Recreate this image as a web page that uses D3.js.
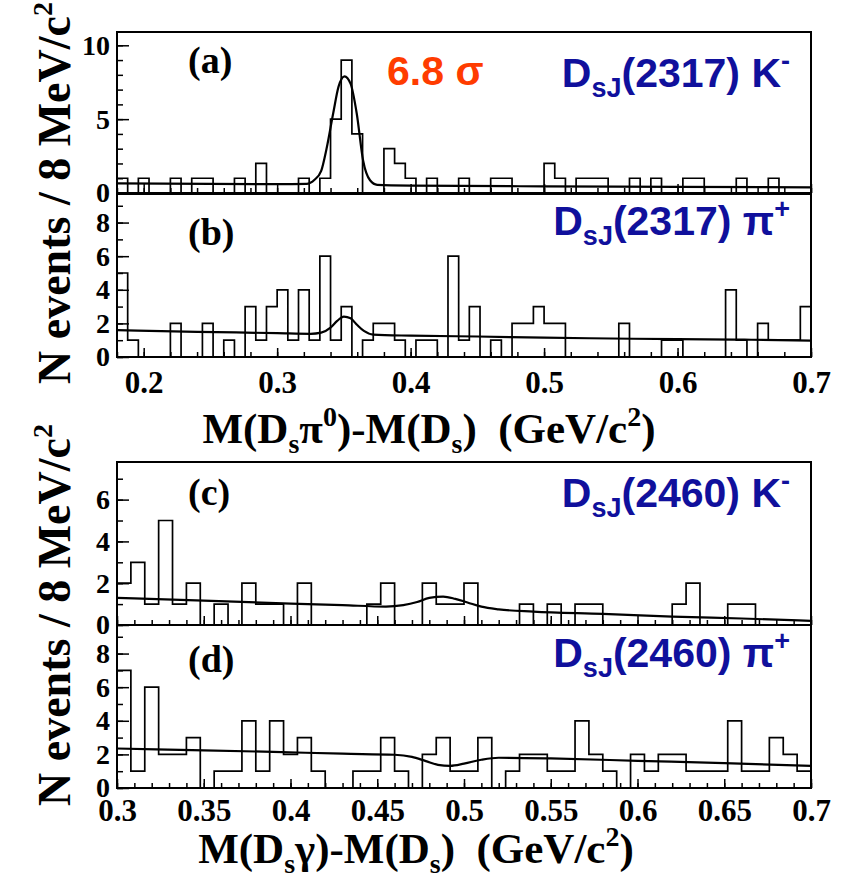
<!DOCTYPE html>
<html>
<head>
<meta charset="utf-8">
<title>DsJ K / pi mass difference spectra</title>
<script src="https://cdn.jsdelivr.net/npm/d3@7"></script>
<style>
  body { margin: 0; background: #fff; }
  text { white-space: pre; }
</style>
</head>
<body>
<svg id="chart" width="843" height="887"></svg>
<script>
  // bin contents, 8 MeV bins
  const binsA = [1,0,1,0,0,1,0,1,1,0, 0,1,0,2,0,0,0,1,0,1, 5,9,4,0,0,3,2,1,0,1, 0,0,1,0,0,1,1,0,0,0, 2,1,0,1,1,1,0,0,1,0, 1,0,0,1,1,0,0,0,1,0, 0,1,0,0,0]
  const binsB = [5,1,0,0,0,2,0,0,2,0, 1,0,3,1,3,4,1,4,1,6, 1,3,0,1,2,2,1,0,1,1, 0,6,1,3,0,1,0,2,2,3, 2,2,0,0,0,0,0,2,0,0, 0,1,1,0,0,0,0,4,1,0, 2,1,1,1,3]
  const binsC = [2,3,1,5,1,2,0,1,0,2, 1,1,0,2,0,0,0,0,1,2, 0,0,2,1,1,2,0,0,0,1, 0,1,0,1,1,0,0,0,0,0, 1,2,0,0,1,1,0,0,0,0]
  const binsD = [7,1,6,2,2,3,0,1,1,4, 1,4,2,3,1,0,0,1,1,3, 1,0,2,3,1,1,3,0,1,2, 2,1,1,4,2,1,0,2,1,2, 2,1,1,1,4,1,1,3,2,1]

  // fitted curves
  const fitA = [[0.18,0.65],[0.25,0.62],[0.30,0.6],[0.322,0.62],[0.328,0.9],[0.333,1.5],[0.337,3.0],[0.342,5.4],[0.346,7.2],[0.3505,7.9],[0.355,7.4],[0.3596,5.4],[0.3644,2.2],[0.3696,0.86],[0.375,0.55],[0.40,0.5],[0.50,0.45],[0.60,0.42],[0.70,0.38]]
  const fitB = [[0.18,1.6],[0.24,1.5],[0.30,1.42],[0.325,1.38],[0.333,1.45],[0.34,1.75],[0.345,2.15],[0.35,2.4],[0.355,2.3],[0.36,1.9],[0.365,1.55],[0.372,1.33],[0.40,1.27],[0.45,1.22],[0.50,1.15],[0.55,1.1],[0.60,1.06],[0.65,1.03],[0.70,0.98]]
  const fitC = [[0.30,1.3],[0.35,1.17],[0.40,1.02],[0.43,0.95],[0.455,0.88],[0.465,0.95],[0.473,1.1],[0.48,1.3],[0.488,1.36],[0.495,1.25],[0.502,1.08],[0.51,0.88],[0.52,0.75],[0.54,0.64],[0.58,0.53],[0.62,0.4],[0.66,0.31],[0.70,0.2]]
  const fitD = [[0.30,2.35],[0.35,2.24],[0.39,2.15],[0.43,2.04],[0.46,1.98],[0.47,1.85],[0.478,1.6],[0.485,1.38],[0.492,1.32],[0.50,1.45],[0.51,1.68],[0.52,1.8],[0.55,1.76],[0.60,1.62],[0.65,1.48],[0.70,1.32]]

  const xTicksTop = [0.2, 0.3, 0.4, 0.5, 0.6, 0.7]
  const xTicksBot = [0.3, 0.35, 0.4, 0.45, 0.5, 0.55, 0.6, 0.65, 0.7]
  const yTicksA = [0, 5, 10]
  const yTicksEven = [0, 2, 4, 6, 8]
  const yTicksC = [0, 2, 4, 6]

  const panelNames = ["(a)", "(b)", "(c)", "(d)"]
  const stateMass = ["2317", "2317", "2460", "2460"]
  const stateTrack = ["K", "π", "K", "π"]
  const stateCharge = ["-", "+", "-", "+"]

  const binW = 0.008
  const serif = "'Liberation Serif', 'Times New Roman', serif"
  const sans = "'Liberation Sans', Arial, sans-serif"
  const blue = "#10109c"

  const svg = d3.select("#chart")
  svg.append("rect").attr("width", 843).attr("height", 887).attr("fill", "#fff")

  const xTop = d3.scaleLinear().domain([0.18, 0.70]).range([117, 811])
  const xBot = d3.scaleLinear().domain([0.30, 0.70]).range([117, 811])

  const panels = [
    { bins: binsA, fit: fitA, x: xTop, y: d3.scaleLinear().domain([0, 10.9]).range([193, 32]),
      yMajor: yTicksA, yMinor: d3.range(0, 11), xMajor: xTicksTop, xMinor: d3.range(9, 36).map(i => i * 0.02), labels: false,
      tag: [188, 73], txt: 87 },
    { bins: binsB, fit: fitB, x: xTop, y: d3.scaleLinear().domain([0, 9.7]).range([357, 194]),
      yMajor: yTicksEven, yMinor: d3.range(0, 10), xMajor: xTicksTop, xMinor: d3.range(9, 36).map(i => i * 0.02), labels: true, pad: 14,
      tag: [188, 245], txt: 235 },
    { bins: binsC, fit: fitC, x: xBot, y: d3.scaleLinear().domain([0, 7.8]).range([625, 462]),
      yMajor: yTicksC, yMinor: d3.range(0, 8), xMajor: xTicksBot, xMinor: d3.range(30, 71).map(i => i / 100), labels: false,
      tag: [188, 505], txt: 507 },
    { bins: binsD, fit: fitD, x: xBot, y: d3.scaleLinear().domain([0, 9.7]).range([788, 625]),
      yMajor: yTicksEven, yMinor: d3.range(0, 10), xMajor: xTicksBot, xMinor: d3.range(30, 71).map(i => i / 100), labels: true, pad: 11,
      tag: [188, 672], txt: 667 }
  ]

  const fmtX = d => String(+d.toFixed(2))

  function styleAxis (g, size) {
    g.select(".domain").remove()
    g.selectAll("line").attr("stroke", "#000").attr("stroke-width", 1.5)
    g.attr("font-family", serif).attr("font-weight", "bold").attr("font-size", size)
    g.selectAll("text").attr("fill", "#000")
  }

  panels.forEach((p, idx) => {
    const g = svg.append("g")
    const x = p.x, y = p.y
    const lo = x.domain()[0]
    const y0 = y(0)

    // histogram outline
    const pts = [[lo, 0]]
    p.bins.forEach((v, i) => {
      pts.push([lo + i * binW, v])
      pts.push([lo + (i + 1) * binW, v])
    })
    pts.push([lo + p.bins.length * binW, 0])
    g.append("path")
      .attr("d", d3.line().x(d => x(d[0])).y(d => y(d[1]))(pts))
      .attr("fill", "none").attr("stroke", "#000").attr("stroke-width", 1.7)

    // fit
    g.append("path")
      .attr("d", d3.line().x(d => x(d[0])).y(d => y(d[1])).curve(d3.curveMonotoneX)(p.fit))
      .attr("fill", "none").attr("stroke", "#000").attr("stroke-width", 2.2)

    // axes, ticks pointing inwards
    g.append("g").attr("transform", `translate(0,${y0})`)
      .call(d3.axisBottom(x).tickValues(p.xMinor).tickSize(-5).tickSizeOuter(0).tickFormat(""))
      .call(a => styleAxis(a, 30))
    g.append("g").attr("transform", `translate(0,${y0})`)
      .call(d3.axisBottom(x).tickValues(p.xMajor).tickSize(-9).tickSizeOuter(0).tickPadding(p.pad || 10)
        .tickFormat(p.labels ? fmtX : ""))
      .call(a => styleAxis(a, 31))
    g.append("g").attr("transform", `translate(${x.range()[0]},0)`)
      .call(d3.axisLeft(y).tickValues(p.yMinor).tickSize(-6).tickSizeOuter(0).tickFormat(""))
      .call(a => styleAxis(a, 28))
    g.append("g").attr("transform", `translate(${x.range()[0]},0)`)
      .call(d3.axisLeft(y).tickValues(p.yMajor).tickSize(-12).tickSizeOuter(0).tickPadding(7).tickFormat(d3.format("d")))
      .call(a => styleAxis(a, 28))

    // frame
    g.append("rect")
      .attr("x", x.range()[0]).attr("y", y.range()[1])
      .attr("width", x.range()[1] - x.range()[0]).attr("height", y0 - y.range()[1])
      .attr("fill", "none").attr("stroke", "#000").attr("stroke-width", 2)

    // panel tag
    g.append("text").attr("x", p.tag[0]).attr("y", p.tag[1])
      .attr("font-family", serif).attr("font-weight", "bold").attr("font-size", 38)
      .text(panelNames[idx])

    // state label
    const t = g.append("text").attr("x", 790).attr("y", p.txt).attr("text-anchor", "end")
      .attr("font-family", sans).attr("font-weight", "bold").attr("font-size", 41).attr("fill", blue)
    t.append("tspan").text("D")
    t.append("tspan").attr("dy", 10).attr("font-size", 27).text("sJ")
    t.append("tspan").attr("dy", -10).text(`(${stateMass[idx]}) ${stateTrack[idx]}`)
    t.append("tspan").attr("dy", -17).attr("font-size", 27).text(stateCharge[idx])
  })

  svg.append("text").attr("x", 387).attr("y", 85)
    .attr("font-family", sans).attr("font-weight", "bold").attr("font-size", 41).attr("fill", "#ff3c00")
    .text("6.8 σ")

  // y titles
  ;[193, 615].forEach(cy => {
    const t = svg.append("text")
      .attr("transform", `translate(70,${cy}) rotate(-90)`)
      .attr("text-anchor", "middle")
      .attr("font-family", serif).attr("font-weight", "bold").attr("font-size", 46)
    t.append("tspan").text("N events / 8 MeV/c")
    t.append("tspan").attr("dy", -18).attr("font-size", 28).text("2")
  })

  // x titles
  function xTitle (cx, base, particle, sup) {
    const t = svg.append("text").attr("x", cx).attr("y", base).attr("text-anchor", "middle")
      .attr("font-family", serif).attr("font-weight", "bold").attr("font-size", 43)
    t.append("tspan").text("M(D")
    t.append("tspan").attr("dy", 10).attr("font-size", 28).text("s")
    t.append("tspan").attr("dy", -10).text(particle)
    let back = 0
    if (sup) {
      t.append("tspan").attr("dy", -17).attr("font-size", 28).text(sup)
      back = 17
    }
    t.append("tspan").attr("dy", back).text(")-M(D")
    t.append("tspan").attr("dy", 10).attr("font-size", 28).text("s")
    t.append("tspan").attr("dy", -10).text(")  (GeV/c")
    t.append("tspan").attr("dy", -17).attr("font-size", 28).text("2")
    t.append("tspan").attr("dy", 17).text(")")
  }
  xTitle(429, 443, "π", "0")
  xTitle(416, 863, "γ", null)
</script>
</body>
</html>
